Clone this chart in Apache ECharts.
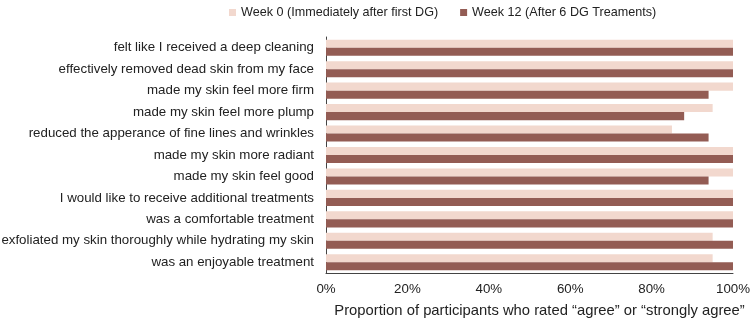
<!DOCTYPE html>
<html>
<head>
<meta charset="utf-8">
<script src="https://cdn.jsdelivr.net/npm/echarts@6/dist/echarts.min.js"></script>
<style>html,body{margin:0;padding:0;background:#fff}#c{width:750px;height:320px}</style>
</head>
<body>
<div id="c"></div>
<script>
const categories = [
  "felt like I received a deep cleaning",
  "effectively removed dead skin from my face",
  "made my skin feel more firm",
  "made my skin feel more plump",
  "reduced the apperance of fine lines and wrinkles",
  "made my skin more radiant",
  "made my skin feel good",
  "I would like to receive additional treatments",
  "was a comfortable treatment",
  "exfoliated my skin thoroughly while hydrating my skin",
  "was an enjoyable treatment"
];
const week0 = [100, 100, 100, 95, 85, 100, 100, 100, 100, 95, 95];
const week12 = [100, 100, 94, 88, 94, 100, 94, 100, 100, 100, 100];
const seriesNames = ["Week 0 (Immediately after first DG)", "Week 12 (After 6 DG Treaments)"];
const xTicks = { min: 0, max: 100, interval: 20 };
const xAxisName = "Proportion of participants who rated \u201cagree\u201d or \u201cstrongly agree\u201d";

const font = "Liberation Sans, Arial, sans-serif";
const chart = echarts.init(document.getElementById('c'), null, { renderer: 'canvas' });
chart.setOption({
  animation: false,
  textStyle: { fontFamily: font },
  legend: {
    top: 1, left: 224,
    icon: 'rect', itemWidth: 7, itemHeight: 7, itemGap: 22, itemStyle: { borderWidth: 0 },
    textStyle: { fontFamily: font, fontSize: 12.6, color: '#222' },
    data: seriesNames
  },
  grid: { left: 326, right: 17, top: 37, bottom: 47, outerBoundsMode: 'none', containLabel: false },
  xAxis: {
    type: 'value', min: xTicks.min, max: xTicks.max, interval: xTicks.interval,
    axisLine: { show: true, lineStyle: { color: '#444', width: 1 } },
    axisTick: { show: false },
    splitLine: { show: false },
    axisLabel: { formatter: '{value}%', fontFamily: font, fontSize: 13.3, color: '#222', margin: 10 },
    name: xAxisName, nameLocation: 'middle', nameGap: 30,
    nameTextStyle: { fontFamily: font, fontSize: 14.8, color: '#222', padding: [0, 0, 0, 20] }
  },
  yAxis: {
    type: 'category', data: categories, inverse: true,
    axisLine: { show: true, lineStyle: { color: '#444', width: 1 } },
    axisTick: { show: false },
    axisLabel: { fontFamily: font, fontSize: 13.3, color: '#222', margin: 12 }
  },
  series: [
    { name: seriesNames[0], type: 'bar', data: week0, barGap: '0%', barCategoryGap: '25%',
      itemStyle: { color: '#F2D8CE' } },
    { name: seriesNames[1], type: 'bar', data: week12, barGap: '0%', barCategoryGap: '25%',
      itemStyle: { color: '#935C54' } }
  ]
});
</script>
</body>
</html>
